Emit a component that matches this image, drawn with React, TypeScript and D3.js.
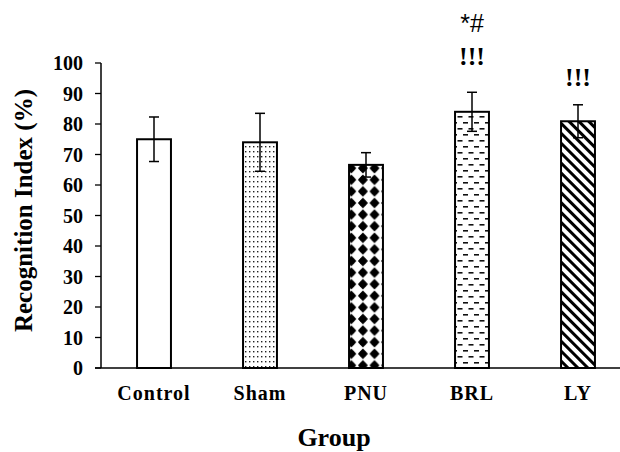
import React from "react";
import * as d3 from "d3";

const categories = ["Control", "Sham", "PNU", "BRL", "LY"];
const means = [75, 74, 66.6, 84, 80.9];
const errors = [7.3, 9.5, 4, 6.4, 5.4];
const sigMarks1 = ["", "", "", "!!!", "!!!"];
const sigMarks1Level = [0, 0, 0, 102.3, 95.3];
const sigMarks2 = ["", "", "", "*#", ""];
const sigMarks2Level = [0, 0, 0, 113, 0];
const yTicks = [0, 10, 20, 30, 40, 50, 60, 70, 80, 90, 100];
const patterns = ["none", "dots", "diamonds", "dashes", "diag"];

const W = 620;
const H = 452;
const margin = { left: 101, right: -11, top: 63, bottom: 84 };

export default function App() {
  const x = d3
    .scaleBand<string>()
    .domain(categories)
    .range([margin.left, W - margin.right])
    .padding(0);
  const y = d3
    .scaleLinear()
    .domain([0, 100])
    .range([H - margin.bottom, margin.top]);
  const barW = x.bandwidth() * 0.32;
  const font = "'Liberation Serif', 'Times New Roman', serif";

  return (
    <svg
      width={W}
      height={H}
      style={{ position: "absolute", left: 0, top: 0, background: "#fff" }}
    >
      <defs>
        <pattern id="dots" width="4" height="5" patternUnits="userSpaceOnUse">
          <rect width="4" height="5" fill="#fff" />
          <rect x="1" y="1" width="1.4" height="1.4" fill="#222" />
        </pattern>
        <pattern id="diamonds" width="11.6" height="11.6" patternUnits="userSpaceOnUse" x="345.5" y="0">
          <rect width="11.6" height="11.6" fill="#fff" />
          <path d="M5.8,0.6 L10.8,5.8 L5.8,11 L0.8,5.8 Z" fill="#000" />
          <circle cx="5.8" cy="5.8" r="3.4" fill="#000" />
        </pattern>
        <pattern id="dashes" width="11" height="12" patternUnits="userSpaceOnUse">
          <rect width="11" height="12" fill="#fff" />
          <rect x="1" y="2" width="5" height="1.6" fill="#111" />
          <rect x="6.5" y="8" width="5" height="1.6" fill="#111" />
          <rect x="-4.5" y="8" width="5" height="1.6" fill="#111" />
        </pattern>
        <pattern
          id="diag"
          width="7"
          height="7"
          patternUnits="userSpaceOnUse"
          patternTransform="rotate(-45)"
        >
          <rect width="7" height="7" fill="#fff" />
          <rect x="0" y="0" width="3" height="7" fill="#000" />
        </pattern>
      </defs>

      {/* y-axis */}
      <line x1={margin.left} x2={margin.left} y1={y(100)} y2={y(0)} stroke="#000" strokeWidth={1.5} />
      {yTicks.map((t) => (
        <g key={t}>
          <line x1={margin.left - 6} x2={margin.left} y1={y(t)} y2={y(t)} stroke="#000" strokeWidth={1.3} />
          <text
            x={margin.left - 18}
            y={y(t)}
            dy="0.35em"
            textAnchor="end"
            fontFamily={font}
            fontWeight="bold"
            fontSize={20}
          >
            {t}
          </text>
        </g>
      ))}
      {/* x-axis */}
      <line x1={margin.left - 6} x2={W - margin.right} y1={y(0)} y2={y(0)} stroke="#000" strokeWidth={1.5} />

      {categories.map((c, i) => {
        const cx = (x(c) as number) + x.bandwidth() / 2;
        const top = y(means[i]);
        const fill = patterns[i] === "none" ? "#fff" : `url(#${patterns[i]})`;
        return (
          <g key={c}>
            <rect
              x={cx - barW / 2}
              y={top}
              width={barW}
              height={y(0) - top}
              fill={fill}
              stroke="#000"
              strokeWidth={2}
            />
            <line x1={cx} x2={cx} y1={y(means[i] + errors[i])} y2={y(means[i] - errors[i])} stroke="#000" strokeWidth={1.5} />
            <line x1={cx - 5} x2={cx + 5} y1={y(means[i] + errors[i])} y2={y(means[i] + errors[i])} stroke="#000" strokeWidth={1.5} />
            <line x1={cx - 5} x2={cx + 5} y1={y(means[i] - errors[i])} y2={y(means[i] - errors[i])} stroke="#000" strokeWidth={1.5} />
            <text
              x={cx}
              y={393}
              dy="0.35em"
              textAnchor="middle"
              fontFamily={font}
              fontWeight="bold"
              fontSize={20}
              letterSpacing={1}
            >
              {c}
            </text>
            {sigMarks1[i] && (
              <text
                x={cx}
                y={y(sigMarks1Level[i])}
                dy="0.35em"
                textAnchor="middle"
                fontFamily={font}
                fontWeight="bold"
                fontSize={26}
              >
                {sigMarks1[i]}
              </text>
            )}
            {sigMarks2[i] && (
              <text
                x={cx}
                y={y(sigMarks2Level[i])}
                dy="0.35em"
                textAnchor="middle"
                fontFamily="'Liberation Sans', Arial, sans-serif"
                fontSize={25}
              >
                {sigMarks2[i]}
              </text>
            )}
          </g>
        );
      })}

      <text
        transform={`translate(23, ${(y(0) + y(100)) / 2 - 5}) rotate(-90)`}
        dy="0.35em"
        textAnchor="middle"
        fontFamily={font}
        fontWeight="bold"
        fontSize={25}
      >
        Recognition Index (%)
      </text>
      <text
        x={334}
        y={437}
        dy="0.35em"
        textAnchor="middle"
        fontFamily={font}
        fontWeight="bold"
        fontSize={26}
      >
        Group
      </text>
    </svg>
  );
}
